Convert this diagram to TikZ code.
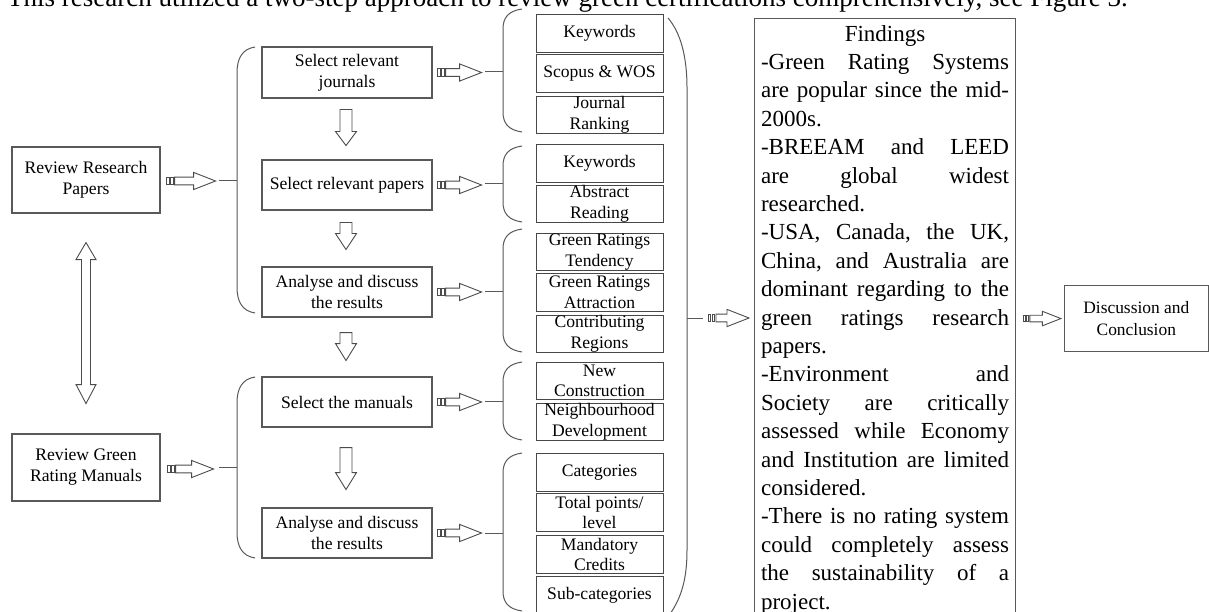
\documentclass[tikz,border=0pt]{standalone}
\usepackage{fontspec}
\setmainfont{Liberation Serif}
\usetikzlibrary{calc}
\tikzset{
 mbox/.style={draw=black!65, line width=1.1pt, align=center, inner sep=0pt, font=\fontsize{17.6}{21}\selectfont},
 sbox/.style={draw=black!72, line width=1pt, align=center, inner sep=0pt, minimum width=127pt, anchor=north, font=\fontsize{17.6}{20.5}\selectfont},
 arrline/.style={draw=black!70, line width=0.9pt, line join=miter},
 brc/.style={draw=black!65, line width=1pt},
}
% striped block arrow: [scale]{start}{local length}
\newcommand\SArr[3][1]{%
 \begin{scope}[shift={#2}, scale=#1]
  \draw[arrline] (0,-3.9) rectangle (2.5,3.9);
  \draw[arrline] (4,-3.9) rectangle (6.5,3.9);
  \draw[arrline] (8,-3.9) -- (#3-22,-3.9) -- (#3-22,-8.6) -- (#3,0) -- (#3-22,8.6) -- (#3-22,3.9) -- (8,3.9) -- cycle;
 \end{scope}}
% down block arrow: {start}{head start}{tip}
\newcommand\DArr[3]{%
 \begin{scope}[shift={#1}]
  \draw[arrline] (-6,0) -- (6,0) -- (6,#2) -- (10.5,#2) -- (0,#3) -- (-10.5,#2) -- (-6,#2) -- cycle;
 \end{scope}}
% left brace: xv, xe, ytop, ybot, r, ymid, stub x
\newcommand\LBr[7]{%
 \draw[brc] (#2,#3) .. controls (#1+5,#3+2) and (#1,#3+#5*0.45) .. (#1,#3+#5) -- (#1,#4-#5) .. controls (#1,#4-#5*0.45) and (#1+5,#4-2) .. (#2,#4);
 \draw[brc] (#7,#6) -- (#1,#6);}
% justified and left-aligned lines of the findings text
\newcommand\jline[1]{\hbox to\linewidth{#1}}
\newcommand\lline[1]{\hbox to\linewidth{#1\hfil}}
\begin{document}
\begin{tikzpicture}[x=1pt,y=-1pt]
\useasboundingbox (0,0) rectangle (1209,612);
\fill[white] (0,0) rectangle (1209,612);

% cut-off line of text above the figure
\node[anchor=base west, inner sep=0pt, font=\fontsize{27}{30}\selectfont] (title) at (7,6.5)
 {This research utilized a two-step approach to review green certifications comprehensively, see Figure 3.};

% left column
\node[mbox, minimum width=148pt, minimum height=66pt] (rrp) at (86,180) {Review Research\\Papers};
\node[mbox, minimum width=148pt, minimum height=67pt] (rgm) at (86,467.5) {Review Green\\Rating Manuals};

% double arrow between them
\begin{scope}[shift={($(rrp.south)+(0,29)$)}]
 \draw[arrline] (0,0) -- (10,17) -- (4.5,17) -- (4.5,142) -- (10,142) -- (0,161) -- (-10,142) -- (-4.5,142) -- (-4.5,17) -- (-10,17) -- cycle;
\end{scope}

% main steps
\node[mbox, minimum width=170pt, minimum height=51pt] (journ) at (347,72.5) {Select relevant\\journals};
\node[mbox, minimum width=170pt, minimum height=50pt] (paper) at (347,185) {Select relevant papers};
\node[mbox, minimum width=170pt, minimum height=50pt] (an1) at (347,292) {Analyse and discuss\\the results};
\node[mbox, minimum width=170pt, minimum height=50pt] (man) at (347,402) {Select the manuals};
\node[mbox, minimum width=170pt, minimum height=50pt] (an2) at (347,533) {Analyse and discuss\\the results};

\DArr{($(journ.south)+(-1,11)$)}{22}{36}
\DArr{($(paper.south)+(-1,12)$)}{11}{27}
\DArr{($(an1.south)+(-1,15)$)}{11}{28}
\DArr{($(man.south)+(-1,20)$)}{25}{42}

% arrows and braces from left column
\SArr{($(rrp.east)+(6,1)$)}{49}
\SArr{($(rgm.east)+(7,1.5)$)}{46}
\LBr{237}{255}{47}{313}{26}{181}{219}
\LBr{237}{255}{377}{558}{26}{467.5}{219}

% sub boxes
\node[sbox, minimum height=38pt] (k1) at (599.5,14) {Keywords};
\node[sbox, minimum height=38pt] (sw) at (599.5,54) {Scopus \& WOS};
\node[sbox, minimum height=37pt] (jr) at (599.5,96) {Journal\\Ranking};
\node[sbox, minimum height=38pt] (k2) at (599.5,144) {Keywords};
\node[sbox, minimum height=37pt] (ar) at (599.5,185) {Abstract\\Reading};
\node[sbox, minimum height=37pt] (grt) at (599.5,233) {Green Ratings\\Tendency};
\node[sbox, minimum height=38pt] (gra) at (599.5,273) {Green Ratings\\Attraction};
\node[sbox, minimum height=37pt] (cr) at (599.5,315) {Contributing\\Regions};
\node[sbox, minimum height=37pt] (nc) at (599.5,362) {New\\Construction};
\node[sbox, minimum height=37pt] (nd) at (599.5,403) {Neighbourhood\\Development};
\node[sbox, minimum height=38pt] (cat) at (599.5,453) {Categories};
\node[sbox, minimum height=38pt] (tp) at (599.5,493) {Total points/\\level};
\node[sbox, minimum height=38pt] (mc) at (599.5,535) {Mandatory\\Credits};
\node[sbox, minimum height=38pt] (sc) at (599.5,576) {Sub-categories};

% arrows and braces from main steps
\SArr{($(journ.east)+(5,0)$)}{44}
\SArr{($(paper.east)+(5,0)$)}{44}
\SArr{($(an1.east)+(5,0)$)}{44}
\SArr{($(man.east)+(5,0)$)}{44}
\SArr{($(an2.east)+(5,0)$)}{44}
\LBr{503}{522}{9}{132}{20}{72}{485}
\LBr{503}{522}{146}{222}{20}{184}{485}
\LBr{503}{522}{229}{352}{20}{291}{485}
\LBr{503}{522}{362}{440}{20}{401.5}{485}
\LBr{503}{522}{453}{611}{20}{533}{485}

% big closing brace
\draw[brc] (668,18) .. controls (680,32) and (687,55) .. (687,88) -- (687,550) .. controls (687,580) and (681,598) .. (670,614);
\coordinate (bstub) at (703,318);
\draw[brc] (687,318) -- (bstub);
\SArr{($(bstub)+(5,0)$)}{41}

% findings
\node[draw=black!65, line width=1.1pt, anchor=north west, inner xsep=6.5pt, inner ysep=6.6pt,
      text width=248pt, font=\fontsize{23}{28.4}\selectfont] (find) at (754,18) {%
\hbox to\linewidth{\hfil Findings\hfil}
\jline{-Green\hfill Rating\hfill Systems}
\jline{are\hfill popular\hfill since\hfill the\hfill mid-}
\lline{2000s.}
\jline{-BREEAM\hfill and\hfill LEED}
\jline{are\hfill global\hfill widest}
\lline{researched.}
\jline{-USA,\hfill Canada,\hfill the\hfill UK,}
\jline{China,\hfill and\hfill Australia\hfill are}
\jline{dominant\hfill regarding\hfill to\hfill the}
\jline{green\hfill ratings\hfill research}
\lline{papers.}
\jline{-Environment\hfill and}
\jline{Society\hfill are\hfill critically}
\jline{assessed\hfill while\hfill Economy}
\jline{and\hfill Institution\hfill are\hfill limited}
\lline{considered.}
\jline{-There\hfill is\hfill no\hfill rating\hfill system}
\jline{could\hfill completely\hfill assess}
\jline{the\hfill sustainability\hfill of\hfill a}
\lline{project.}};

\node[mbox, minimum width=143.5pt, minimum height=66pt, anchor=north west, font=\fontsize{17.4}{21.7}\selectfont] (disc) at (1064,285) {Discussion and\\Conclusion};
\SArr[0.84]{($(find.east |- disc.west)+(7,0)$)}{45}
\end{tikzpicture}
\end{document}
